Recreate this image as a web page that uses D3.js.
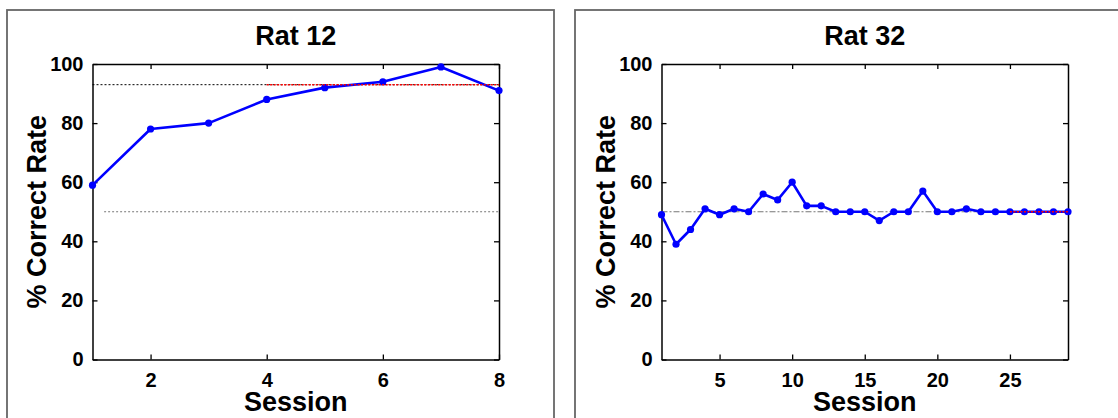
<!DOCTYPE html>
<html lang="en">
<head>
    <meta charset="UTF-8">
    <title>Rat learning curves</title>
    <script src="https://d3js.org/d3.v7.min.js"></script>
    <style>
        body {
            margin: 0;
            background: #fff;
            font-family: "Liberation Sans", Arial, sans-serif;
        }
        .tick text {
            font-size: 20px;
            font-weight: bold;
            fill: #000;
        }
        .label {
            font-size: 27px;
            font-weight: bold;
        }
    </style>
</head>
<body>
    <svg width="1118" height="418"></svg>
    <script>
        // Rat 12
        const rat12Sessions = [1, 2, 3, 4, 5, 6, 7, 8];
        const rat12Rate = [59, 78, 80, 88, 92, 94, 99, 91];
        const rat12XTicks = [2, 4, 6, 8];

        // Rat 32
        const rat32Sessions = d3.range(1, 30);
        const rat32Rate = [49, 39, 44, 51, 49, 51, 50, 56, 54, 60,
                           52, 52, 50, 50, 50, 47, 50, 50, 57, 50,
                           50, 51, 50, 50, 50, 50, 50, 50, 50];
        const rat32XTicks = [5, 10, 15, 20, 25];

        const yTicks = [0, 20, 40, 60, 80, 100];
        const chanceLevel = 50;
        const criterionLevel = 93;

        const svg = d3.select("svg");

        const panels = [
            {
                title: "Rat 12", sessions: rat12Sessions, rate: rat12Rate, xTicks: rat12XTicks,
                box: [7, 10, 547, 420], plot: [92.5, 499], xDomain: [1, 8],
                refs: [
                    { y: criterionLevel, from: 1, to: 8, color: "#000", dash: "2,2", width: 1 },
                    { y: chanceLevel, from: 1.2, to: 8, color: "#777", dash: "2,2", width: 1.2 },
                    { y: criterionLevel, from: 4, to: 8, color: "#ff0000", dash: "2,1.5", width: 1.6, top: true }
                ]
            },
            {
                title: "Rat 32", sessions: rat32Sessions, rate: rat32Rate, xTicks: rat32XTicks,
                box: [575, 10, 560, 420], plot: [661.5, 1068], xDomain: [1, 29],
                refs: [
                    { y: chanceLevel, from: 1, to: 29, color: "#777", dash: "6,2,2,2", width: 1.2 },
                    { y: chanceLevel, from: 25, to: 29, color: "#ff0000", dash: "2,1.5", width: 1.6, top: true }
                ]
            }
        ];

        panels.forEach(p => {
            // outer frame
            svg.append("rect")
                .attr("x", p.box[0]).attr("y", p.box[1])
                .attr("width", p.box[2]).attr("height", p.box[3])
                .attr("fill", "none")
                .attr("stroke", "#666")
                .attr("stroke-width", 1.8);

            const x = d3.scaleLinear().domain(p.xDomain).range(p.plot);
            const y = d3.scaleLinear().domain([0, 100]).range([359.5, 64]);
            const g = svg.append("g");

            // box + inward ticks on all four sides
            g.append("g").attr("transform", `translate(0,${y(0)})`)
                .call(d3.axisBottom(x).tickValues(p.xTicks).tickFormat(d3.format("d"))
                    .tickSizeInner(-5).tickSizeOuter(0).tickPadding(13));
            g.append("g").attr("transform", `translate(0,${y(100)})`)
                .call(d3.axisTop(x).tickValues(p.xTicks).tickSizeInner(-5).tickSizeOuter(0).tickFormat(""));
            g.append("g").attr("transform", `translate(${x(p.xDomain[0])},0)`)
                .call(d3.axisLeft(y).tickValues(yTicks).tickSizeInner(-5).tickSizeOuter(0).tickPadding(9));
            g.append("g").attr("transform", `translate(${x(p.xDomain[1])},0)`)
                .call(d3.axisRight(y).tickValues(yTicks).tickSizeInner(-5).tickSizeOuter(0).tickFormat(""));
            g.selectAll(".domain").attr("stroke", "#000").attr("stroke-width", 1.5);
            g.selectAll(".tick line").attr("stroke", "#000").attr("stroke-width", 1.3);

            const refLine = r => g.append("line")
                .attr("x1", x(r.from)).attr("x2", x(r.to))
                .attr("y1", y(r.y)).attr("y2", y(r.y))
                .attr("stroke", r.color)
                .attr("stroke-width", r.width)
                .attr("stroke-dasharray", r.dash);

            p.refs.filter(r => !r.top).forEach(refLine);

            const pts = p.sessions.map((s, i) => ({ s: s, v: p.rate[i] }));
            g.append("path")
                .datum(pts)
                .attr("fill", "none")
                .attr("stroke", "#0000ff")
                .attr("stroke-width", 2.6)
                .attr("stroke-linejoin", "round")
                .attr("d", d3.line().x(d => x(d.s)).y(d => y(d.v)));
            g.selectAll(".pt").data(pts).join("circle")
                .attr("cx", d => x(d.s)).attr("cy", d => y(d.v))
                .attr("r", 3.6)
                .attr("fill", "#0000ff");

            p.refs.filter(r => r.top).forEach(refLine);

            const cx = (p.plot[0] + p.plot[1]) / 2;
            svg.append("text").attr("class", "label")
                .attr("x", cx).attr("y", 45)
                .attr("text-anchor", "middle")
                .text(p.title);
            svg.append("text").attr("class", "label")
                .attr("x", cx).attr("y", 411)
                .attr("text-anchor", "middle")
                .text("Session");
            svg.append("text").attr("class", "label")
                .attr("transform", `translate(${p.plot[0] - 47},${(y(0) + y(100)) / 2}) rotate(-90)`)
                .attr("text-anchor", "middle")
                .text("% Correct Rate");
        });
    </script>
</body>
</html>
